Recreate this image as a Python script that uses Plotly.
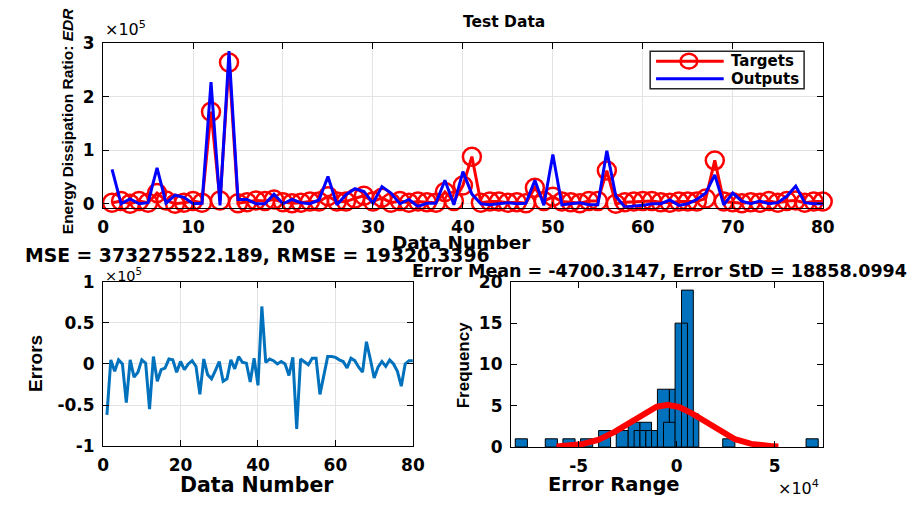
import numpy as np
import plotly.graph_objects as go

W, H = 922, 507

# ---- data -------------------------------------------------------------
data_number = list(range(1, 81))

targets = [
    2000, 5000, 0, 5000, 2000, 20000, 6000, 0, 2000, 5000,
    2000, 172000, 6000, 264000, 1000, 3000, 6000, 5000, 8000, 3000,
    1000, 2000, 4000, 4000, 14000, 4000, 4000, 10000, 15000, 4000,
    11000, 2000, 5000, 2000, 4000, 3000, 2000, 22000, 5000, 34000,
    88000, 2000, 4000, 4000, 2000, 3000, 1000, 30000, 5000, 13000,
    4000, 3000, 1000, 5000, 5000, 62000, 0, 3000, 4000, 5000,
    5000, 3000, 2000, 4000, 4000, 4000, 10000, 81000, 4000, 3000,
    1000, 3000, 2000, 5000, 2000, 5000, 6000, 2000, 4000, 4000,
]

outputs = [
    64000, 0, 9000, 0, 2000, 67000, 1000, 16000, 12000, 0,
    1000, 227000, -3000, 285000, 8000, 8000, 0, 0, 18000, 0,
    8000, 2000, 0, 7000, 51000, -2000, 17000, 28000, 23000, 1000,
    32000, 20000, 0, 8000, -5000, 1000, 1000, 44000, -2000, 60000,
    18000, 0, -2000, 0, 2000, 0, 1000, 44000, -3000, 92000,
    -2000, 0, 2000, -2000, -2000, 99000, 14000, -6000, -5000, -3000,
    0, 0, 7000, -3000, 0, 8000, 20000, 54000, -2000, 20000,
    5000, 0, 5000, 0, 2000, 14000, 33000, 2000, 0, 0,
]

# histogram bars (left edge, right edge, count), in drawing order
hist_left = [-82300, -67000, -58000, -49000, -39800, -30800, -24700, -18700,
             -21700, -18700, -15700, -12800, -9800, -3700, -6700, 5500,
             2500, -800, 2500, 23500, 66000]
hist_right = [-76100, -60800, -51800, -42800, -33700, -24700, -18700, -12800,
              -18700, -15700, -12800, -9800, -3700, 2500, -700, 11300,
              8500, 2500, 5500, 29700, 72200]
hist_count = [1, 1, 1, 1, 2, 2, 3, 3,
              2, 2, 2, 2, 7, 7, 3, 4,
              19, 15, 15, 1, 1]

mse = 373275522.189
rmse = 19320.3396
error_mean = -4700.3147
error_std = 18858.0994
fit_bin_width = 3000

errors = [t - o for t, o in zip(targets, outputs)]

# ---- styling helpers ---------------------------------------------------
BOLD = "DejaVu Sans"
LAB = "Liberation Sans"
BLUE_M = "#0072BD"
GRID = "#e3e3e3"


def fx(px):
    return px / W


def fy(py):
    return 1 - py / H


def axis_common(**kw):
    base = dict(
        showline=True, linecolor="black", linewidth=1, mirror="ticks",
        ticks="inside", ticklen=6, tickcolor="black", tickwidth=1,
        zeroline=False,
        tickfont=dict(family=BOLD, size=17, color="black", weight="bold"),
        ticklabelstandoff=4,
    )
    base.update(kw)
    return base


fig = go.Figure()

# ---- top: targets vs outputs -------------------------------------------
fig.add_trace(go.Scatter(
    x=data_number, y=targets, mode="lines+markers", name="Targets",
    line=dict(color="red", width=3),
    marker=dict(symbol="circle-open", size=18, color="red",
                line=dict(color="red", width=2.5)),
    xaxis="x", yaxis="y", showlegend=False, cliponaxis=False,
))
fig.add_trace(go.Scatter(
    x=data_number, y=outputs, mode="lines", name="Outputs",
    line=dict(color="blue", width=3),
    xaxis="x", yaxis="y", showlegend=False,
))

# ---- bottom left: errors -----------------------------------------------
fig.add_trace(go.Scatter(
    x=data_number, y=errors, mode="lines",
    line=dict(color=BLUE_M, width=3),
    xaxis="x2", yaxis="y2", showlegend=False,
))

# ---- bottom right: histogram + normal fit ------------------------------
centers = [(l + r) / 2 for l, r in zip(hist_left, hist_right)]
widths = [r - l for l, r in zip(hist_left, hist_right)]
fig.add_trace(go.Bar(
    x=centers, y=hist_count, width=widths,
    marker=dict(color=BLUE_M, line=dict(color="black", width=1)),
    xaxis="x3", yaxis="y3", showlegend=False,
))

fx_vals = np.linspace(error_mean - 3 * error_std, error_mean + 3 * error_std, 200)
scale = len(errors) * fit_bin_width / (error_std * np.sqrt(2 * np.pi))
fy_vals = scale * np.exp(-0.5 * ((fx_vals - error_mean) / error_std) ** 2)
fig.add_trace(go.Scatter(
    x=fx_vals, y=fy_vals, mode="lines",
    line=dict(color="red", width=6),
    xaxis="x3", yaxis="y3", showlegend=False,
))

# ---- axes ----------------------------------------------------------------
fig.update_layout(
    xaxis=axis_common(domain=[fx(99), fx(833)], anchor="y", range=[0, 80],
                      tickvals=list(range(0, 81, 10)), showgrid=True,
                      gridcolor=GRID),
    yaxis=axis_common(domain=[fy(206), fy(34.5)], anchor="x",
                      range=[-7700, 300000],
                      tickvals=[0, 100000, 200000, 300000],
                      ticktext=["0", "1", "2", "3"], showgrid=True,
                      gridcolor=GRID),
    xaxis2=axis_common(domain=[fx(99), fx(415)], anchor="y2", range=[0, 80],
                       tickvals=[0, 20, 40, 60, 80], showgrid=True,
                       gridcolor=GRID),
    yaxis2=axis_common(domain=[fy(454), fy(283)], anchor="x2",
                       range=[-100000, 100000],
                       tickvals=[-100000, -50000, 0, 50000, 100000],
                       ticktext=["-1", "-0.5", "0", "0.5", "1"],
                       showgrid=True, gridcolor=GRID),
    xaxis3=axis_common(domain=[fx(515), fx(833)], anchor="y3",
                       range=[-84500, 74500],
                       tickvals=[-50000, 0, 50000],
                       ticktext=["-5", "0", "5"], showgrid=False),
    yaxis3=axis_common(domain=[fy(455), fy(283)], anchor="x3",
                       range=[0, 20], tickvals=[0, 5, 10, 15, 20],
                       showgrid=False),
    barmode="overlay",
    width=W, height=H,
    margin=dict(l=0, r=0, t=0, b=0),
    paper_bgcolor="white", plot_bgcolor="white",
    showlegend=False,
)


def note(text, x, y, size, family=BOLD, weight="bold", angle=0,
         xanchor="center", yanchor="middle", style="normal"):
    fig.add_annotation(
        text=text, x=fx(x), y=fy(y), xref="paper", yref="paper",
        showarrow=False, textangle=angle, xanchor=xanchor, yanchor=yanchor,
        font=dict(family=family, size=size, color="black", weight=weight,
                  style=style),
    )


# titles and axis labels
note("Test Data", 508, 13, 15.5)
note("Data Number", 465, 242, 18.5)
note("Energy Dissipation Ratio: <i>EDR</i>", 63, 116, 15.5, family=LAB,
     angle=-90)
note("×10<sup>5</sup>", 99, 32, 16, weight="normal", xanchor="left",
     yanchor="bottom")

note(f"MSE = {mse:.3f}, RMSE = {rmse:.4f}", 257, 256, 18.8)
note(f"Error Mean = {error_mean:.4f}, Error StD = {error_std:.4f}",
     667, 272, 17.5)

note("×10<sup>5</sup>", 99, 287, 14.5, weight="normal", xanchor="left",
     yanchor="bottom")
note("Data Number", 256, 495, 20.5)
note("Errors", 30, 368, 19, family=LAB, angle=-90)

note("Error Range", 620, 493.5, 19.5)
note("Frequency", 467, 369, 17, family=LAB, angle=-90)
note("×10<sup>4</sup>", 785, 497, 16, weight="normal", xanchor="left",
     yanchor="middle")

# legend box drawn by hand
fig.add_shape(type="rect", xref="paper", yref="paper",
              x0=fx(657), x1=fx(814), y0=fy(82), y1=fy(43),
              line=dict(color="#262626", width=1.5), fillcolor="white")
fig.add_shape(type="line", xref="paper", yref="paper",
              x0=fx(663), x1=fx(732), y0=fy(53.3), y1=fy(53.3),
              line=dict(color="red", width=3))
fig.add_shape(type="circle", xref="paper", yref="paper",
              x0=fx(688), x1=fx(705), y0=fy(61), y1=fy(45.5),
              line=dict(color="red", width=2.5))
fig.add_shape(type="line", xref="paper", yref="paper",
              x0=fx(663), x1=fx(732), y0=fy(71.7), y1=fy(71.7),
              line=dict(color="blue", width=3))
note("Targets", 737, 53.3, 15, xanchor="left")
note("Outputs", 737, 71.7, 15, xanchor="left")

fig.write_html("out.html")
